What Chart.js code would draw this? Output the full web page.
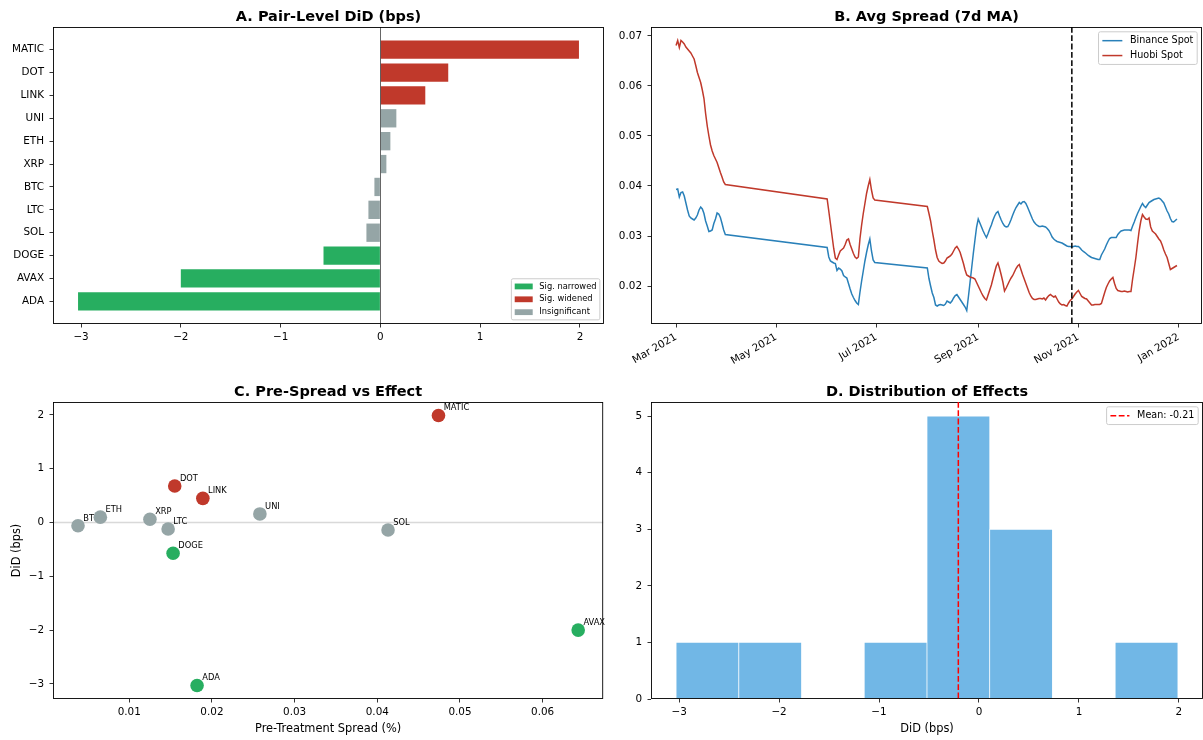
<!DOCTYPE html>
<html>
<head>
<meta charset="utf-8">
<script src="https://cdn.jsdelivr.net/npm/chart.js@4.4.1/dist/chart.umd.min.js"></script>
<style>
  html, body { margin: 0; padding: 0; background: #fff; }
  #fig { position: relative; width: 1203px; height: 740px; overflow: hidden; background: #fff; }
  canvas { position: absolute; }
</style>
</head>
<body>
<div id="fig">
  <canvas id="cA" width="610" height="370" style="left:0px;top:0px"></canvas>
  <canvas id="cB" width="593" height="370" style="left:610px;top:0px"></canvas>
  <canvas id="cC" width="610" height="370" style="left:0px;top:370px"></canvas>
  <canvas id="cD" width="593" height="370" style="left:610px;top:370px"></canvas>
</div>
<script>
// ---- pair-level difference-in-differences estimates (bps), sorted by effect ----
const pairs        = ['ADA', 'AVAX', 'DOGE', 'SOL', 'LTC', 'BTC', 'XRP', 'ETH', 'UNI', 'LINK', 'DOT', 'MATIC'];
const did          = [-3.03, -2.00, -0.57, -0.14, -0.12, -0.06, 0.06, 0.10, 0.16, 0.45, 0.68, 1.99];
const preSpread    = [0.0182, 0.0643, 0.0153, 0.0413, 0.0147, 0.0038, 0.0125, 0.0065, 0.0258, 0.0189, 0.0155, 0.0474];
const significance = ['narrowed', 'narrowed', 'narrowed', 'insig', 'insig', 'insig', 'insig', 'insig', 'insig', 'widened', 'widened', 'widened'];

// ---- 7-day moving average of quoted spread (%), daily, by sampling window ----
const sampleWindows = [['2021-03-01', '2021-03-31'], ['2021-06-01', '2021-06-30'], ['2021-08-01', '2021-12-31']];
const binanceSpread = [
  // Mar
  .0393,.0394,.0378,.0387,.0388,.0380,.0366,.0352,.0340,.0336,.0334,.0332,.0336,.0342,.0352,.0358,
  .0354,.0345,.0330,.0320,.0309,.0310,.0312,.0325,.0334,.0346,.0344,.0337,.0325,.0312,.0303,
  // Jun
  .0277,.0258,.0250,.0248,.0246,.0245,.0231,.0236,.0234,.0230,.0221,.0218,.0216,.0205,.0194,
  .0184,.0177,.0171,.0166,.0163,.0188,.0210,.0230,.0250,.0267,.0282,.0294,.0270,.0252,.0247,
  // Aug
  .0236,.0215,.0200,.0186,.0177,.0162,.0160,.0162,.0163,.0162,.0161,.0164,.0170,.0168,.0166,.0170,
  .0176,.0181,.0183,.0178,.0173,.0168,.0163,.0158,.0151,.0178,.0207,.0236,.0265,.0292,.0318,
  // Sep
  .0334,.0326,.0318,.0310,.0303,.0297,.0305,.0314,.0322,.0332,.0340,.0346,.0349,.0340,.0332,
  .0325,.0320,.0318,.0319,.0325,.0333,.0342,.0350,.0357,.0362,.0367,.0364,.0368,.0369,.0365,
  // Oct
  .0358,.0350,.0342,.0334,.0328,.0324,.0321,.0319,.0319,.0320,.0319,.0318,.0315,.0311,.0305,.0298,
  .0294,.0291,.0289,.0288,.0287,.0286,.0284,.0282,.0280,.0279,.0279,.0278,.0279,.0280,.0279,
  // Nov
  .0279,.0276,.0272,.0269,.0267,.0264,.0261,.0259,.0257,.0256,.0255,.0254,.0253,.0253,.0262,
  .0268,.0274,.0282,.0289,.0295,.0297,.0297,.0297,.0297,.0303,.0307,.0310,.0311,.0312,.0312,
  // Dec
  .0312,.0312,.0311,.0320,.0328,.0337,.0345,.0352,.0359,.0365,.0360,.0357,.0362,.0367,.0369,.0371,
  .0373,.0374,.0375,.0376,.0374,.0370,.0366,.0358,.0350,.0344,.0335,.0329,.0328,.0331,.0334
];
const huobiSpread = [
  // Mar
  .0681,.0691,.0677,.0691,.0688,.0684,.0678,.0674,.0670,.0666,.0660,.0654,.0641,.0627,.0617,.0607,
  .0592,.0575,.0545,.0520,.0500,.0482,.0470,.0461,.0454,.0447,.0437,.0427,.0418,.0408,.0403,
  // Jun
  .0374,.0350,.0325,.0300,.0275,.0256,.0253,.0262,.0270,.0273,.0276,.0283,.0292,.0294,.0283,
  .0274,.0265,.0258,.0255,.0258,.0295,.0322,.0345,.0365,.0385,.0400,.0413,.0392,.0376,.0372,
  // Aug
  .0359,.0345,.0330,.0310,.0292,.0272,.0257,.0250,.0247,.0245,.0246,.0250,.0256,.0258,.0260,.0264,
  .0270,.0276,.0279,.0274,.0267,.0256,.0245,.0232,.0222,.0220,.0218,.0217,.0216,.0214,.0207,
  // Sep
  .0200,.0193,.0186,.0180,.0175,.0172,.0182,.0192,.0202,.0215,.0228,.0240,.0246,.0235,.0222,
  .0208,.0190,.0196,.0203,.0210,.0216,.0221,.0228,.0235,.0240,.0243,.0233,.0223,.0214,.0205,
  // Oct
  .0196,.0187,.0180,.0175,.0173,.0173,.0174,.0175,.0175,.0174,.0176,.0172,.0177,.0181,.0183,.0180,
  .0178,.0180,.0174,.0168,.0164,.0162,.0163,.0161,.0160,.0166,.0171,.0174,.0179,.0184,.0188,
  // Nov
  .0191,.0185,.0179,.0177,.0175,.0174,.0170,.0166,.0162,.0162,.0163,.0163,.0163,.0163,.0165,
  .0176,.0187,.0197,.0204,.0210,.0214,.0217,.0205,.0195,.0191,.0190,.0189,.0189,.0190,.0189,
  // Dec
  .0188,.0189,.0189,.0214,.0235,.0257,.0285,.0311,.0330,.0343,.0338,.0334,.0333,.0336,.0318,.0310,
  .0307,.0304,.0299,.0294,.0290,.0282,.0272,.0264,.0257,.0245,.0233,.0235,.0237,.0239,.0241
];
const treatmentDate = '2021-10-28';
const monthTickDates  = ['2021-03-01', '2021-05-01', '2021-07-01', '2021-09-01', '2021-11-01', '2022-01-01'];
const monthTickLabels = ['Mar 2021', 'May 2021', 'Jul 2021', 'Sep 2021', 'Nov 2021', 'Jan 2022'];

// ---- axis tick values ----
const didTicks    = [-3, -2, -1, 0, 1, 2];
const spreadTicks = [0.02, 0.03, 0.04, 0.05, 0.06, 0.07];
const preTicks    = [0.01, 0.02, 0.03, 0.04, 0.05, 0.06];
const countTicks  = [0, 1, 2, 3, 4, 5];
const nBins = 8;

// ---- styling ----
const FONT = '"DejaVu Sans", sans-serif';
const statusColor = { narrowed: '#27ae60', widened: '#c0392b', insig: '#95a5a6' };
Chart.defaults.font.family = FONT;
Chart.defaults.font.size = 10.4;
Chart.defaults.color = '#000';
Chart.defaults.animation = false;

const uminus = s => String(s).replace('-', '\u2212');
const pad5 = (lo, hi) => { const m = 0.05 * (hi - lo); return [lo - m, hi + m]; };
const DAY = 864e5;
const toDay = s => Date.UTC(+s.slice(0, 4), +s.slice(5, 7) - 1, +s.slice(8, 10)) / DAY;
const Y_PAD = 5.5;

function grid() {
  return { drawOnChartArea: false, drawTicks: true, tickLength: 3.5, tickWidth: 0.8, tickColor: '#000', color: '#000', offset: false };
}
function ticksAt(values) { return s => { s.ticks = values.map(v => ({ value: v })); }; }

function titlePlugin(text) {
  return {
    id: 'panelTitle',
    afterDraw(chart) {
      const { ctx, chartArea: a } = chart;
      ctx.save();
      ctx.font = 'bold 14.5px ' + FONT;
      ctx.fillStyle = '#000';
      ctx.textAlign = 'center';
      ctx.textBaseline = 'alphabetic';
      ctx.fillText(text, (a.left + a.right) / 2, a.top - 6.5);
      ctx.restore();
    }
  };
}
const framePlugin = {
  id: 'frame',
  afterDatasetsDraw(chart) {
    const { ctx, chartArea: a } = chart;
    ctx.save();
    ctx.strokeStyle = '#000';
    ctx.lineWidth = 0.9;
    ctx.strokeRect(a.left + 0.5, a.top + 0.5, a.right - a.left - 1, a.bottom - a.top - 1);
    ctx.restore();
  }
};
function legendBox(chart, items, fs, corner, handleLen) {
  const { ctx, chartArea: a } = chart;
  ctx.save();
  ctx.font = fs + 'px ' + FONT;
  const pad = 0.4 * fs, hl = handleLen, htp = 0.8 * fs, rowH = 1.05 * fs, gap = 0.5 * fs, bap = 0.5 * fs;
  let tw = 0;
  items.forEach(it => { tw = Math.max(tw, ctx.measureText(it.label).width); });
  const w = 2 * pad + hl + htp + tw;
  const h = 2 * pad + items.length * rowH + (items.length - 1) * gap;
  const x = a.right - bap - w;
  const y = corner === 'lower right' ? a.bottom - bap - h : a.top + bap;
  ctx.beginPath();
  ctx.roundRect(x, y, w, h, 0.2 * fs);
  ctx.fillStyle = 'rgba(255,255,255,0.8)';
  ctx.fill();
  ctx.strokeStyle = '#cccccc';
  ctx.lineWidth = 1;
  ctx.stroke();
  items.forEach((it, i) => {
    const cy = y + pad + i * (rowH + gap) + rowH / 2;
    const hx = x + pad;
    if (it.kind === 'patch') {
      ctx.fillStyle = it.color;
      ctx.fillRect(hx, cy - 0.35 * fs, hl, 0.7 * fs);
    } else {
      ctx.strokeStyle = it.color;
      ctx.lineWidth = 1.5;
      ctx.setLineDash(it.dash || []);
      ctx.beginPath();
      ctx.moveTo(hx, cy);
      ctx.lineTo(hx + hl, cy);
      ctx.stroke();
      ctx.setLineDash([]);
    }
    ctx.fillStyle = '#000';
    ctx.textAlign = 'left';
    ctx.textBaseline = 'middle';
    ctx.fillText(it.label, hx + hl + htp, cy);
  });
  ctx.restore();
}
const baseOptions = () => ({
  responsive: false,
  animation: false,
  events: [],
  plugins: { legend: { display: false }, tooltip: { enabled: false }, title: { display: false } }
});

// ================= A. Pair-Level DiD =================
(function () {
  const [xMin, xMax] = pad5(Math.min(0, ...did), Math.max(0, ...did));
  const [yMin, yMax] = pad5(-0.4, pairs.length - 1 + 0.4);
  const opts = baseOptions();
  Object.assign(opts, {
    indexAxis: 'y',
    layout: { padding: { top: 27, right: 6, left: 0, bottom: 0 } },
    scales: {
      x: {
        type: 'linear', min: xMin, max: xMax, grid: grid(), border: { display: false },
        ticks: { padding: 3.5, autoSkip: false, maxRotation: 0, callback: v => uminus(v) },
        afterBuildTicks: ticksAt(didTicks), afterFit: s => { s.height = 46; }
      },
      y: {
        type: 'linear', min: yMin, max: yMax, offset: false, grid: grid(), border: { display: false },
        ticks: { padding: Y_PAD, autoSkip: false, callback: v => pairs[v] },
        afterBuildTicks: ticksAt(pairs.map((p, i) => i)), afterFit: s => { s.width = 53; }
      }
    }
  });
  new Chart(document.getElementById('cA'), {
    type: 'bar',
    data: {
      datasets: [{
        data: pairs.map((p, i) => ({ x: did[i], y: i })),
        backgroundColor: significance.map(s => statusColor[s]),
        borderWidth: 0, barPercentage: 0.8, categoryPercentage: 1.0
      }]
    },
    options: opts,
    plugins: [titlePlugin('A. Pair-Level DiD (bps)'), framePlugin, {
      id: 'zeroLine',
      afterDatasetsDraw(chart) {
        const { ctx, chartArea: a, scales } = chart;
        const x0 = Math.round(scales.x.getPixelForValue(0)) + 0.5;
        ctx.save();
        ctx.strokeStyle = 'rgba(0,0,0,0.6)';
        ctx.lineWidth = 1;
        ctx.beginPath(); ctx.moveTo(x0, a.top); ctx.lineTo(x0, a.bottom); ctx.stroke();
        ctx.restore();
      },
      afterDraw(chart) {
        legendBox(chart, [
          { kind: 'patch', color: statusColor.narrowed, label: 'Sig. narrowed' },
          { kind: 'patch', color: statusColor.widened, label: 'Sig. widened' },
          { kind: 'patch', color: statusColor.insig, label: 'Insignificant' }
        ], 8.3, 'lower right', 18);
      }
    }]
  });
})();

// ================= B. Avg Spread (7d MA) =================
(function () {
  const days = [];
  sampleWindows.forEach(([a, b]) => { for (let d = toDay(a); d <= toDay(b); d++) days.push(d); });
  const [xMin, xMax] = pad5(days[0], days[days.length - 1]);
  const allVals = binanceSpread.concat(huobiSpread);
  const [yMin, yMax] = pad5(Math.min(...allVals), Math.max(...allVals));
  const tickDays = monthTickDates.map(toDay);
  const opts = baseOptions();
  Object.assign(opts, {
    layout: { padding: { top: 27, right: 1, left: 0, bottom: 0 } },
    scales: {
      x: {
        type: 'linear', min: xMin, max: xMax, grid: grid(), border: { display: false },
        ticks: { padding: 3.5, autoSkip: false, maxRotation: 30, minRotation: 30,
                 callback: v => monthTickLabels[tickDays.indexOf(v)] },
        afterBuildTicks: ticksAt(tickDays), afterFit: s => { s.height = 46; }
      },
      y: {
        type: 'linear', min: yMin, max: yMax, grid: grid(), border: { display: false },
        ticks: { padding: Y_PAD, autoSkip: false, callback: v => v.toFixed(2) },
        afterBuildTicks: ticksAt(spreadTicks), afterFit: s => { s.width = 41; }
      }
    }
  });
  new Chart(document.getElementById('cB'), {
    type: 'line',
    data: {
      datasets: [
        { label: 'Binance Spot', data: days.map((d, i) => ({ x: d, y: binanceSpread[i] })),
          borderColor: '#2980b9', borderWidth: 1.5, pointRadius: 0, tension: 0, fill: false, order: 1 },
        { label: 'Huobi Spot', data: days.map((d, i) => ({ x: d, y: huobiSpread[i] })),
          borderColor: '#c0392b', borderWidth: 1.5, pointRadius: 0, tension: 0, fill: false, order: 0 }
      ]
    },
    options: opts,
    plugins: [titlePlugin('B. Avg Spread (7d MA)'), framePlugin, {
      id: 'eventLine',
      afterDatasetsDraw(chart) {
        const { ctx, chartArea: a, scales } = chart;
        const xe = scales.x.getPixelForValue(toDay(treatmentDate));
        ctx.save();
        ctx.strokeStyle = '#000';
        ctx.lineWidth = 1.5;
        ctx.setLineDash([5.8, 2.5]);
        ctx.beginPath(); ctx.moveTo(xe, a.top); ctx.lineTo(xe, a.bottom); ctx.stroke();
        ctx.restore();
      },
      afterDraw(chart) {
        legendBox(chart, [
          { kind: 'line', color: '#2980b9', label: 'Binance Spot' },
          { kind: 'line', color: '#c0392b', label: 'Huobi Spot' }
        ], 9.6, 'upper right', 20);
      }
    }]
  });
})();

// ================= C. Pre-Spread vs Effect =================
(function () {
  const [xMin, xMax] = pad5(Math.min(...preSpread), Math.max(...preSpread));
  const [yMin, yMax] = pad5(Math.min(...did), Math.max(...did));
  const opts = baseOptions();
  Object.assign(opts, {
    layout: { padding: { top: 32, right: 6, left: 0, bottom: 0 } },
    scales: {
      x: {
        type: 'linear', min: xMin, max: xMax, grid: grid(), border: { display: false },
        ticks: { padding: 3.5, autoSkip: false, maxRotation: 0, callback: v => v.toFixed(2) },
        title: { display: true, text: 'Pre-Treatment Spread (%)', font: { size: 11.4 }, padding: { top: 0, bottom: 4.2 } },
        afterBuildTicks: ticksAt(preTicks), afterFit: s => { s.height = 41; }
      },
      y: {
        type: 'linear', min: yMin, max: yMax, grid: grid(), border: { display: false },
        ticks: { padding: Y_PAD, autoSkip: false, callback: v => uminus(v) },
        title: { display: true, text: 'DiD (bps)', font: { size: 11.4 }, padding: { top: 10.5, bottom: 0 } },
        afterBuildTicks: ticksAt(didTicks), afterFit: s => { s.width = 53; }
      }
    }
  });
  new Chart(document.getElementById('cC'), {
    type: 'scatter',
    data: {
      datasets: [{
        data: pairs.map((p, i) => ({ x: preSpread[i], y: did[i] })),
        pointBackgroundColor: significance.map(s => statusColor[s]),
        pointBorderWidth: 0, pointRadius: 6.8, pointHoverRadius: 6.8
      }]
    },
    options: opts,
    plugins: [titlePlugin('C. Pre-Spread vs Effect'), framePlugin, {
      id: 'labelsAndZero',
      beforeDatasetsDraw(chart) {
        const { ctx, chartArea: a, scales } = chart;
        const y0 = scales.y.getPixelForValue(0);
        ctx.save();
        ctx.strokeStyle = 'rgba(128,128,128,0.3)';
        ctx.lineWidth = 1.6;
        ctx.beginPath(); ctx.moveTo(a.left, y0); ctx.lineTo(a.right, y0); ctx.stroke();
        ctx.font = '8.3px ' + FONT;
        ctx.fillStyle = '#000';
        ctx.textAlign = 'left';
        ctx.textBaseline = 'alphabetic';
        pairs.forEach((p, i) => {
          const px = scales.x.getPixelForValue(preSpread[i]);
          const py = scales.y.getPixelForValue(did[i]);
          ctx.fillText(p, px + 5.2, py - 5.2);
        });
        ctx.restore();
      }
    }]
  });
})();

// ================= D. Distribution of Effects =================
(function () {
  const lo = Math.min(...did), hi = Math.max(...did);
  const width = (hi - lo) / nBins;
  const counts = new Array(nBins).fill(0);
  did.forEach(v => { counts[Math.min(nBins - 1, Math.floor((v - lo) / width))] += 1; });
  const centers = counts.map((c, i) => lo + (i + 0.5) * width);
  const mean = did.reduce((s, v) => s + v, 0) / did.length;
  const [xMin, xMax] = pad5(lo, hi);
  const opts = baseOptions();
  Object.assign(opts, {
    layout: { padding: { top: 32, right: 0, left: 0, bottom: 0 } },
    scales: {
      x: {
        type: 'linear', min: xMin, max: xMax, offset: false, grid: grid(), border: { display: false },
        ticks: { padding: 3.5, autoSkip: false, maxRotation: 0, callback: v => uminus(v) },
        title: { display: true, text: 'DiD (bps)', font: { size: 11.4 }, padding: { top: 0, bottom: 4.2 } },
        afterBuildTicks: ticksAt(didTicks), afterFit: s => { s.height = 41; }
      },
      y: {
        type: 'linear', min: 0, max: Math.max(...counts) * 1.05, grid: grid(), border: { display: false },
        ticks: { padding: Y_PAD, autoSkip: false, callback: v => String(v) },
        afterBuildTicks: ticksAt(countTicks), afterFit: s => { s.width = 41; }
      }
    }
  });
  new Chart(document.getElementById('cD'), {
    type: 'bar',
    data: {
      datasets: [{
        data: centers.map((c, i) => ({ x: c, y: counts[i] })),
        backgroundColor: 'rgba(52,152,219,0.7)', borderColor: '#ffffff', borderWidth: 0.7,
        borderSkipped: false, barPercentage: 1.0, categoryPercentage: 1.0
      }]
    },
    options: opts,
    plugins: [titlePlugin('D. Distribution of Effects'), framePlugin, {
      id: 'meanLine',
      afterDatasetsDraw(chart) {
        const { ctx, chartArea: a, scales } = chart;
        const xm = scales.x.getPixelForValue(mean);
        ctx.save();
        ctx.strokeStyle = '#ff0000';
        ctx.lineWidth = 1.5;
        ctx.setLineDash([5.8, 2.5]);
        ctx.beginPath(); ctx.moveTo(xm, a.top); ctx.lineTo(xm, a.bottom); ctx.stroke();
        ctx.restore();
      },
      afterDraw(chart) {
        legendBox(chart, [
          { kind: 'line', color: '#ff0000', dash: [5.8, 2.5], label: 'Mean: ' + mean.toFixed(2) }
        ], 9.6, 'upper right', 19);
      }
    }]
  });
})();
</script>
</body>
</html>
